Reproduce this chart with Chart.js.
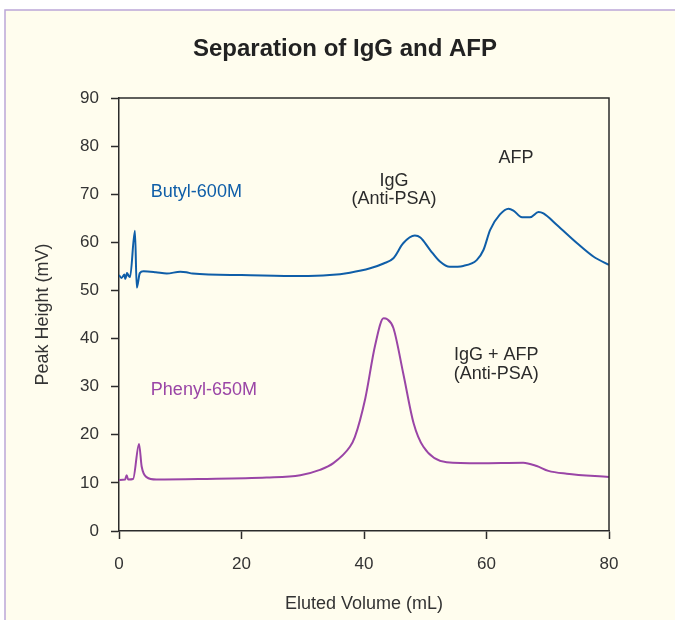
<!DOCTYPE html>
<html>
<head>
<meta charset="utf-8">
<script src="https://cdn.jsdelivr.net/npm/chart.js@4/dist/chart.umd.min.js"></script>
<style>
  html, body { margin: 0; padding: 0; background: #fff; }
  #wrap { position: absolute; left: 0; top: 0; width: 675px; height: 620px; }
</style>
</head>
<body>
<div id="wrap"><canvas id="sep" width="675" height="620"></canvas></div>
<script>
// eluted volume (mL) and peak height (mV)
const butylX = [0, 0.4, 0.9, 1.0, 1.2, 1.3, 1.6, 1.8, 2.6, 2.9, 3.4, 4.0, 6.0, 7.8, 10.0, 11.0, 12.0, 20.0, 29.6, 34.4, 37.7, 41.0, 43.2, 44.8, 46.4, 48.3, 49.2, 50.8, 52.4, 54.0, 56.2, 58.4, 59.5, 60.6, 62.2, 63.6, 64.4, 65.8, 67.1, 68.5, 69.3, 71.5, 74.8, 77.5, 80.0]
const butylY = [53.2, 52.6, 53.3, 52.4, 53.0, 53.6, 53.0, 52.8, 62.4, 50.6, 53.6, 54.0, 53.8, 53.5, 53.9, 53.8, 53.5, 53.2, 53.0, 53.2, 53.7, 54.6, 55.6, 56.7, 59.8, 61.4, 61.0, 58.4, 56.0, 54.9, 55.1, 56.3, 58.4, 62.6, 65.8, 67.0, 66.6, 65.2, 65.2, 66.3, 66.0, 63.6, 59.8, 57.0, 55.3]
const phenylX = [0, 1.0, 1.25, 1.5, 2.3, 3.27, 3.7, 4.5, 6.1, 13.2, 24.1, 29.6, 32.8, 35.0, 37.7, 38.5, 40.2, 41.8, 43.2, 43.8, 44.8, 46.4, 48.1, 49.7, 53.5, 58.9, 66.0, 68.2, 70.1, 73.1, 80.0]
const phenylY = [10.6, 10.7, 11.6, 10.7, 10.8, 18.1, 13.4, 11.2, 10.7, 10.8, 11.1, 11.6, 12.7, 14.1, 17.5, 19.5, 27.5, 38.5, 44.2, 44.0, 42.2, 32.8, 22.4, 17.5, 14.3, 14.1, 14.2, 13.5, 12.5, 11.9, 11.2]

const xTicks = [0, 20, 40, 60, 80]
const yTicks = [0, 10, 20, 30, 40, 50, 60, 70, 80, 90]

const chartTitle = 'Separation of IgG and AFP'

const butylColor = '#0f5ea8'
const phenylColor = '#9a45a6'
const ink = '#2b2b2b'

// text written on the plot, placed in data units
const notes = [
  { text: 'Butyl-600M', x: 5.2, y: 70.5, align: 'left', color: butylColor },
  { text: 'Phenyl-650M', x: 5.2, y: 29.3, align: 'left', color: phenylColor },
  { text: 'IgG', x: 44.9, y: 72.8, align: 'center', color: ink },
  { text: '(Anti-PSA)', x: 44.9, y: 68.9, align: 'center', color: ink },
  { text: 'AFP', x: 64.8, y: 77.6, align: 'center', color: ink },
  { text: 'IgG + AFP', x: 61.6, y: 36.5, align: 'center', color: ink },
  { text: '(Anti-PSA)', x: 61.6, y: 32.7, align: 'center', color: ink },
]

const toPoints = (xs, ys) => xs.map((x, i) => ({ x: x, y: ys[i] }))

const framePlugin = {
  id: 'frame',
  beforeDraw: (chart) => {
    const ctx = chart.ctx
    ctx.save()
    ctx.fillStyle = '#ffffff'
    ctx.fillRect(0, 0, chart.width, chart.height)
    ctx.fillStyle = '#fffdee'
    ctx.fillRect(5, 10, chart.width - 5, chart.height - 10)
    ctx.strokeStyle = '#bca7d8'
    ctx.lineWidth = 1.5
    ctx.beginPath()
    ctx.moveTo(5, chart.height)
    ctx.lineTo(5, 10)
    ctx.lineTo(chart.width, 10)
    ctx.stroke()
    ctx.restore()
  },
  afterDraw: (chart) => {
    const ctx = chart.ctx
    const a = chart.chartArea
    ctx.save()
    ctx.strokeStyle = ink
    ctx.lineWidth = 1.5
    ctx.beginPath()
    ctx.moveTo(a.left, a.top)
    ctx.lineTo(a.right, a.top)
    ctx.lineTo(a.right, a.bottom)
    ctx.stroke()
    // title sits a little left of the plot centre, as in the print
    ctx.font = 'bold 24px "Liberation Sans", Arial, sans-serif'
    ctx.fillStyle = '#222'
    ctx.textAlign = 'center'
    ctx.textBaseline = 'middle'
    ctx.fillText(chartTitle, 345, 49)
    ctx.font = '18px "Liberation Sans", Arial, sans-serif'
    notes.forEach((n) => {
      ctx.fillStyle = n.color
      ctx.textAlign = n.align
      ctx.fillText(n.text, chart.scales.x.getPixelForValue(n.x), chart.scales.y.getPixelForValue(n.y))
    })
    ctx.restore()
  },
}

const onPageLoad = () => {
  const tickFont = { family: '"Liberation Sans", Arial, sans-serif', size: 17 }
  const titleFont = { family: '"Liberation Sans", Arial, sans-serif', size: 18 }
  new Chart(document.getElementById('sep'), {
    type: 'line',
    data: {
      datasets: [
        {
          label: 'Butyl-600M',
          data: toPoints(butylX, butylY),
          borderColor: butylColor,
          borderWidth: 2,
          pointRadius: 0,
          cubicInterpolationMode: 'monotone',
        },
        {
          label: 'Phenyl-650M',
          data: toPoints(phenylX, phenylY),
          borderColor: phenylColor,
          borderWidth: 2,
          pointRadius: 0,
          cubicInterpolationMode: 'monotone',
        },
      ],
    },
    options: {
      responsive: false,
      animation: false,
      layout: { padding: { left: 0, top: 98, right: 66, bottom: 0 } },
      plugins: {
        legend: { display: false },
        tooltip: { enabled: false },
        title: { display: false },
      },
      scales: {
        x: {
          type: 'linear',
          min: 0,
          max: 80,
          afterBuildTicks: (s) => { s.ticks = xTicks.map((v) => ({ value: v })) },
          afterFit: (s) => { s.height = 89 },
          border: { color: ink, width: 1.5 },
          grid: { drawOnChartArea: false, tickLength: 8, tickColor: ink, tickWidth: 1.5 },
          ticks: { color: '#333', font: tickFont, padding: 15, maxRotation: 0 },
          title: { display: true, text: 'Eluted Volume (mL)', color: '#333', font: titleFont, padding: { top: 0, bottom: 5 } },
        },
        y: {
          min: 0,
          max: 90,
          afterBuildTicks: (s) => { s.ticks = yTicks.map((v) => ({ value: v })) },
          afterFit: (s) => { s.width = 119 },
          border: { color: ink, width: 1.5 },
          grid: { drawOnChartArea: false, tickLength: 8, tickColor: ink, tickWidth: 1.5 },
          ticks: { color: '#333', font: tickFont, padding: 12 },
          title: { display: true, text: 'Peak Height (mV)', color: '#333', font: titleFont, padding: { top: 32, bottom: 0 } },
        },
      },
    },
    plugins: [framePlugin],
  })
}

document.addEventListener('DOMContentLoaded', onPageLoad)
</script>
</body>
</html>
